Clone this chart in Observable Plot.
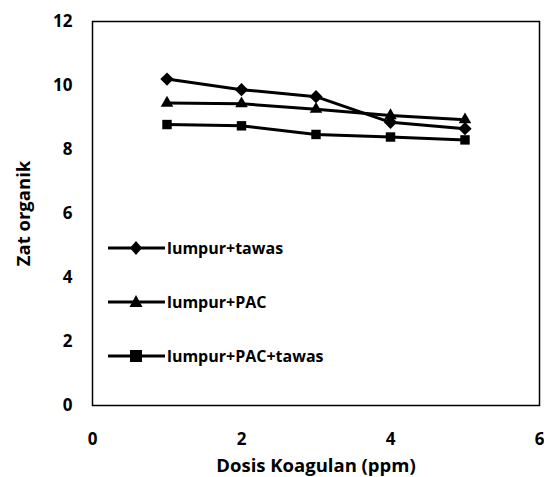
<!DOCTYPE html>
<html><head><meta charset="utf-8">
<script src="https://cdn.jsdelivr.net/npm/d3@7"></script>
<script src="https://cdn.jsdelivr.net/npm/@observablehq/plot@0.6"></script>
<style>
body{margin:0;background:#fff;font-family:"Open Sans",sans-serif;}
#wrap{position:relative;width:544px;height:477px;overflow:hidden;}
#legend{position:absolute;left:108px;top:236px;font-weight:bold;font-size:16px;color:#000;}
#legend .row{display:flex;align-items:center;height:24px;margin-bottom:30px;}
#legend svg{margin-right:2px;}
</style></head>
<body><div id="wrap"><div id="legend"></div></div>
<script>
const dosis = [1, 2, 3, 4, 5];
const seriesNames = ["lumpur+tawas", "lumpur+PAC", "lumpur+PAC+tawas"];
const tawas = [10.2, 9.87, 9.65, 8.85, 8.65];
const pac = [9.45, 9.43, 9.26, 9.06, 8.93];
const pacTawas = [8.78, 8.74, 8.47, 8.39, 8.3];
const yTicks = [0, 2, 4, 6, 8, 10, 12];
const xTicks = [0, 2, 4, 6];
const symbols = ["diamond2", "triangle2", "square2"];

const allValues = [tawas, pac, pacTawas];
const data = [];
allValues.forEach((vals, s) => vals.forEach((v, i) => data.push({x: dosis[i], y: v, series: seriesNames[s]})));

const chart = Plot.plot({
  width: 544, height: 477,
  marginLeft: 92, marginRight: 5, marginTop: 21, marginBottom: 72,
  style: {fontFamily: "'Open Sans', sans-serif", fontWeight: "bold", fontSize: "17px", color: "#000", background: "#fff", overflow: "visible"},
  x: {domain: [0, 6], ticks: xTicks, tickFormat: d3.format("d"), tickSize: 0, tickPadding: 27, label: "Dosis Koagulan (ppm)", labelAnchor: "center", labelOffset: 66},
  y: {domain: [0, 12], ticks: yTicks, tickFormat: d3.format("d"), tickSize: 0, tickPadding: 20, label: "Zat organik", labelAnchor: "center", labelOffset: 76},
  symbol: {domain: seriesNames, range: symbols},
  marks: [
    Plot.frame({stroke: "#000", strokeWidth: 1.5}),
    Plot.line(data, {x: "x", y: "y", z: "series", stroke: "#000", strokeWidth: 3}),
    Plot.dot(data, {x: "x", y: "y", symbol: "series", fill: "#000", stroke: "none", r: 6})
  ]
});
const wrap = document.getElementById("wrap");
wrap.insertBefore(chart, wrap.firstChild);
chart.style.display = "block";
chart.querySelectorAll("g[aria-label='x-axis label'] text, g[aria-label='y-axis label'] text").forEach(t => {
  t.setAttribute("font-size", "18.5");
  t.textContent = t.textContent.replace(/\s*[→↑←↓]\s*/g, "").trim();
});

const legend = document.getElementById("legend");
const shapes = {
  diamond2: '<path d="M28,5 L34,12 L28,19 L22,12 Z" fill="#000"/>',
  triangle2: '<path d="M28,5 L34.5,17 L21.5,17 Z" fill="#000"/>',
  square2: '<rect x="22" y="6" width="12" height="12" fill="#000"/>'
};
seriesNames.forEach((name, i) => {
  const row = document.createElement("div");
  row.className = "row";
  row.innerHTML = `<svg width="57" height="24"><line x1="0" x2="57" y1="12" y2="12" stroke="#000" stroke-width="3"/>${shapes[symbols[i]]}</svg><span>${name}</span>`;
  legend.appendChild(row);
});
</script></body></html>
